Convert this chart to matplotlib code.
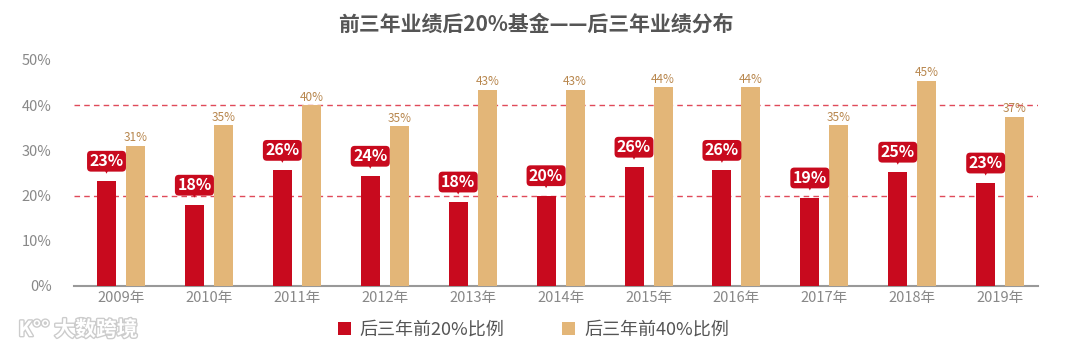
import matplotlib
matplotlib.use("Agg")
import matplotlib.pyplot as plt
import matplotlib.patheffects as pe
import numpy as np

plt.rcParams['font.family'] = ['Noto Sans CJK SC', 'DejaVu Sans']

years = ['2009年', '2010年', '2011年', '2012年', '2013年', '2014年',
         '2015年', '2016年', '2017年', '2018年', '2019年']
top20 = [23.2, 17.9, 25.6, 24.3, 18.6, 20.0, 26.3, 25.6, 19.5, 25.2, 22.8]
top40 = [31.0, 35.6, 40.0, 35.3, 43.4, 43.4, 44.0, 44.0, 35.6, 45.4, 37.4]
labels20 = ['23%', '18%', '26%', '24%', '18%', '20%', '26%', '26%', '19%', '25%', '23%']
labels40 = ['31%', '35%', '40%', '35%', '43%', '43%', '44%', '44%', '35%', '45%', '37%']

red = '#c80a1e'
tan = '#e3b678'

fig = plt.figure(figsize=(10.8, 3.5), dpi=100)
ax = fig.add_axes([0.0685, 0.183, 0.8926, 0.646])

x = np.arange(len(years))
w = 0.216
off = 0.165
ax.bar(x - off, top20, w, color=red, label='后三年前20%比例', zorder=3)
ax.bar(x + off, top40, w, color=tan, label='后三年前40%比例', zorder=3)

for xi, v, s in zip(x, top20, labels20):
    ax.annotate(s, (xi - off, v), xytext=(0, 8.5), textcoords='offset points',
                ha='center', va='bottom', color='white', fontsize=11.5, fontweight='bold',
                bbox=dict(boxstyle='round,pad=0.15,rounding_size=0.25', fc=red, ec='none'),
                zorder=5)
    ax.annotate('', (xi - off, v + 1.0), xytext=(xi - off, v + 2.4),
                arrowprops=dict(arrowstyle='-|>', color=red, lw=0, mutation_scale=8),
                zorder=4)

for xi, v, s in zip(x, top40, labels40):
    ax.annotate(s, (xi + off, v), xytext=(0, 1), textcoords='offset points',
                ha='center', va='bottom', color='#b8874e', fontsize=8.5, zorder=5)

for yv in (20, 40):
    ax.axhline(yv, color='#e04a5a', ls=(0, (4, 3)), lw=1, zorder=2)

ax.set_xlim(-0.535, 10.43)
ax.set_ylim(0, 50)
ax.set_yticks([0, 10, 20, 30, 40, 50])
ax.set_yticklabels(['%d%%' % t for t in [0, 10, 20, 30, 40, 50]])
ax.set_xticks(x)
ax.set_xticklabels(years)
ax.tick_params(colors='#888888', labelsize=10.5, length=0)
ax.tick_params(axis='y', pad=16)
for sp in ['top', 'right', 'left']:
    ax.spines[sp].set_visible(False)
ax.spines['bottom'].set_color('#999999')
ax.spines['bottom'].set_linewidth(1.5)

fig.suptitle('前三年业绩后20%基金——后三年业绩分布', x=0.496, y=0.96,
             fontsize=15, fontweight='bold', color='#555555')

fig.legend(loc='lower center', bbox_to_anchor=(0.494, -0.015), ncol=2, frameon=False,
           fontsize=13, handlelength=0.7, handleheight=0.7, handletextpad=0.5,
           columnspacing=3.2, labelcolor='#555555')

fig.text(0.017, 0.04, 'K°° 大数跨境', fontsize=15, color='white', fontweight='bold',
         path_effects=[pe.withStroke(linewidth=2, foreground='#cccccc')])

fig.savefig('out.png', dpi=100)
